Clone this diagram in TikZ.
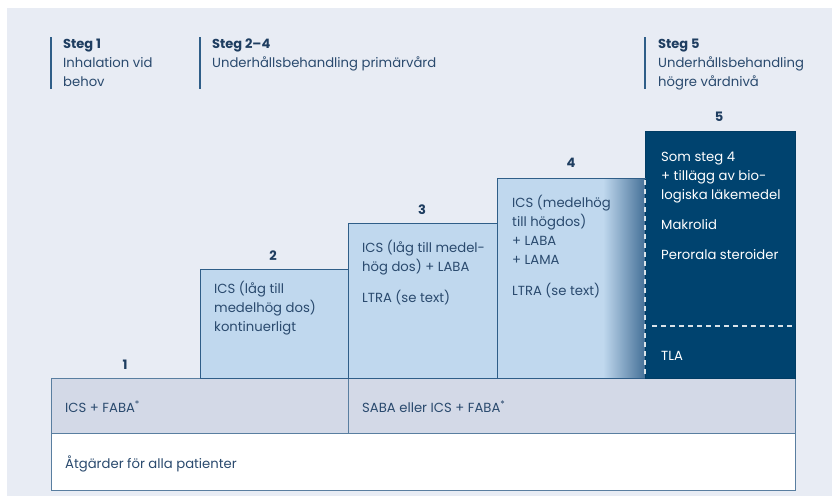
\documentclass[tikz,border=0pt]{standalone}
\usepackage{fontspec}
\setmainfont{Poppins}
\definecolor{bg}{HTML}{E8ECF4}
\definecolor{light}{HTML}{C0D8EE}
\definecolor{edge}{HTML}{2F5E88}
\definecolor{dark}{HTML}{00436F}
\definecolor{rowc}{HTML}{D3D9E7}
\definecolor{ink}{HTML}{1E3D60}
\definecolor{txt}{HTML}{2A4A6E}
\tikzset{
  stepbox/.style={draw=edge, line width=1pt, fill=light, anchor=north west, inner sep=0pt},
  rowbox/.style={draw=edge!80, line width=1.2pt, anchor=north west, inner sep=0pt},
  btxt/.style={anchor=base west, inner sep=0pt, text=txt, font=\fontsize{13.2}{19}\selectfont, align=left},
  wtxt/.style={btxt, text=white},
  num/.style={anchor=center, inner sep=0pt, text=ink, font=\fontsize{13}{15}\selectfont\bfseries},
  htit/.style={anchor=base west, inner sep=0pt, text=ink, font=\fontsize{13}{19}\selectfont\bfseries},
  hsub/.style={anchor=base west, inner sep=0pt, text=txt, font=\fontsize{13.2}{19}\selectfont, align=left},
  hbar/.style={draw=edge, line width=1.2pt},
  wdash/.style={draw=white!85!dark, line width=1.2pt, dash pattern=on 5pt off 4pt}
}
\begin{document}
\begin{tikzpicture}[x=1pt,y=-1pt]
\useasboundingbox (0,0) rectangle (832,496);
\fill[white] (0,0) rectangle (832,496);
\fill[bg] (7,8) rectangle (832,496);
% base table
\node[rowbox, fill=rowc, minimum width=297pt, minimum height=55pt] (r1a) at (51,378) {};
\node[rowbox, fill=rowc, minimum width=447pt, minimum height=55pt] (r1b) at (348,378) {};
\node[rowbox, fill=white, minimum width=744pt, minimum height=57pt] (r2) at (51,433) {};
% steps
\node[stepbox, minimum width=148pt, minimum height=109pt] (s2) at (200,269) {};
\node[stepbox, minimum width=149pt, minimum height=155pt] (s3) at (348,223) {};
\node[stepbox, minimum width=148pt, minimum height=200pt] (s4) at (497,178) {};
\shade[left color=light, right color=edge!85!light] (603,178.6) rectangle (645,377.4);
\node[stepbox, fill=dark, draw=dark!90!black, minimum width=150pt, minimum height=247pt] (s5) at (645,131) {};
\draw[edge] (s4.north west) -- (s4.north east);
\coordinate (v1) at (645,180);
\coordinate (v2) at (645,377);
\draw[wdash] (v1) -- (v2);
\coordinate (h1) at (652,326);
\coordinate (h2) at (792,326);
\draw[wdash] (h1) -- (h2);
% numbers
\node[num] (n1) at (125,365) {1};
\node[num] (n2) at (273,256) {2};
\node[num] (n3) at (422,210) {3};
\node[num] (n4) at (571,163) {4};
\node[num] (n5) at (719,117) {5};
% header
\coordinate (b1a) at (51,37); \coordinate (b1b) at (51,89);
\coordinate (b2a) at (200,37); \coordinate (b2b) at (200,89);
\coordinate (b3a) at (645,37); \coordinate (b3b) at (645,89);
\draw[hbar] (b1a) -- (b1b);
\draw[hbar] (b2a) -- (b2b);
\draw[hbar] (b3a) -- (b3b);
\node[htit] (h1t) at (63,48.5) {Steg 1};
\node[hsub] (h1s) at (63,86.5) {Inhalation vid\\behov};
\node[htit] (h2t) at (212,48.5) {Steg 2–4};
\node[hsub] (h2s) at (212,67.5) {Underhållsbehandling primärvård};
\node[htit] (h3t) at (658,48.5) {Steg 5};
\node[hsub] (h3s) at (658,86.5) {Underhållsbehandling\\högre vårdnivå};
% box texts
\node[btxt] (t2) at (214,331.5) {ICS (låg till\\medelhög dos)\\kontinuerligt};
\node[btxt] (t3a) at (362,271.5) {ICS (låg till medel-\\hög dos) + LABA};
\node[btxt] (t3b) at (362,302) {LTRA (se text)};
\node[btxt] (t4a) at (512,264.5) {ICS (medelhög\\till högdos)\\+ LABA\\+ LAMA};
\node[btxt] (t4b) at (512,295) {LTRA (se text)};
\node[wtxt] (t5a) at (661,199.5) {Som steg 4\\+ tillägg av bio-\\logiska läkemedel};
\node[wtxt] (t5b) at (661,229.5) {Makrolid};
\node[wtxt] (t5c) at (661,259) {Perorala steroider};
\node[wtxt] (t5d) at (661,360) {TLA};
\node[btxt] (r1at) at (65,412) {ICS + FABA\textsuperscript{*}};
\node[btxt] (r1bt) at (362,412) {SABA eller ICS + FABA\textsuperscript{*}};
\node[btxt] (r2t) at (65,468) {Åtgärder för alla patienter};
\end{tikzpicture}
\end{document}
